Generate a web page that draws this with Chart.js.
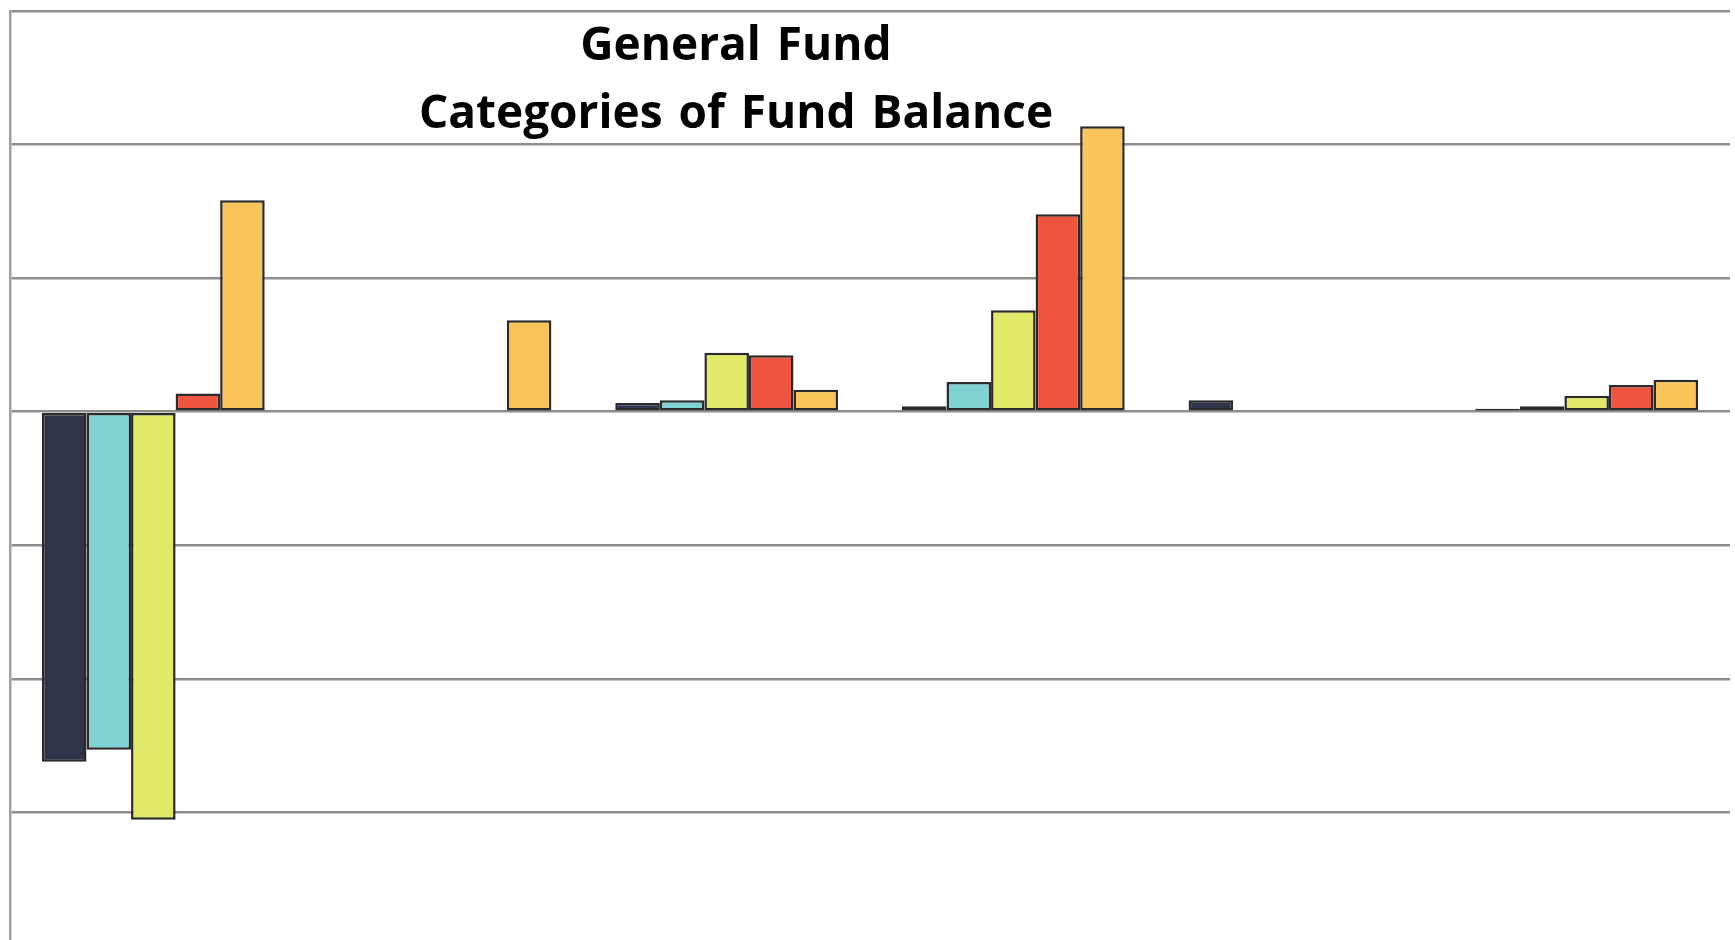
<!DOCTYPE html>
<html>
<head>
<meta charset="utf-8">
<title>General Fund - Categories of Fund Balance</title>
<script src="https://cdn.jsdelivr.net/npm/chart.js@4"></script>
<style>
  html, body { margin: 0; padding: 0; background: #ffffff; overflow: hidden; }
  #wrap { position: relative; width: 1735px; height: 940px; }
  #fundChart { position: absolute; left: 0; top: 0; }
  #chartTitle {
    position: absolute;
    left: 0;
    top: 8px;
    width: 1472px;
    text-align: center;
    font-family: "Open Sans", sans-serif;
    font-weight: 700;
    font-size: 46px;
    line-height: 68px;
    color: #000000;
    word-spacing: 4px;
  }
</style>
</head>
<body>
<div id="wrap">
  <canvas id="fundChart" width="1735" height="946"></canvas>
  <div id="chartTitle">General Fund<br>Categories of Fund Balance</div>
</div>
<script>
// categories and series (axis labels and legend are cut off in the picture,
// values are in gridline units)
const categories = ["Category 1", "Category 2", "Category 3", "Category 4", "Category 5", "Category 6"];
const seriesNames = ["Series 1", "Series 2", "Series 3", "Series 4", "Series 5"];

const series1 = [-2.62, 0, 0.065, 0.04, 0.085, 0.022];
const series2 = [-2.53, 0, 0.085, 0.222, 0, 0.04];
const series3 = [-3.055, 0, 0.442, 0.76, 0, 0.12];
const series4 = [0.137, 0, 0.422, 1.478, 0, 0.2];
const series5 = [1.583, 0.684, 0.165, 2.138, 0, 0.24];

const yTicks = [-4, -3, -2, -1, 0, 1, 2, 3];

const colors = ["#30344b", "#7fd4d3", "#e1e969", "#ee5540", "#f9c55b"];

document.addEventListener("DOMContentLoaded", function () {
  const ctx = document.getElementById("fundChart");
  const allSeries = [series1, series2, series3, series4, series5];

  new Chart(ctx, {
    type: "bar",
    data: {
      labels: categories,
      datasets: allSeries.map((values, i) => ({
        label: seriesNames[i],
        data: values,
        backgroundColor: colors[i],
        borderColor: "#2a2a2a",
        borderWidth: 2.5,
        borderSkipped: false,
        barPercentage: 1.0,
        categoryPercentage: 0.777,
      })),
    },
    options: {
      responsive: false,
      animation: false,
      layout: {
        padding: { left: 10, top: 11, right: 5, bottom: 0 },
      },
      plugins: {
        legend: { display: false },
        title: { display: false },
        tooltip: { enabled: false },
      },
      scales: {
        x: {
          display: false,
        },
        y: {
          min: yTicks[0],
          max: yTicks[yTicks.length - 1],
          ticks: { display: false, stepSize: 1 },
          grid: {
            color: "#8e8e8e",
            lineWidth: 2.5,
            drawTicks: false,
          },
          border: { display: true, color: "#a0a0a0", width: 2.5 },
        },
      },
    },
  });
});
</script>
</body>
</html>
